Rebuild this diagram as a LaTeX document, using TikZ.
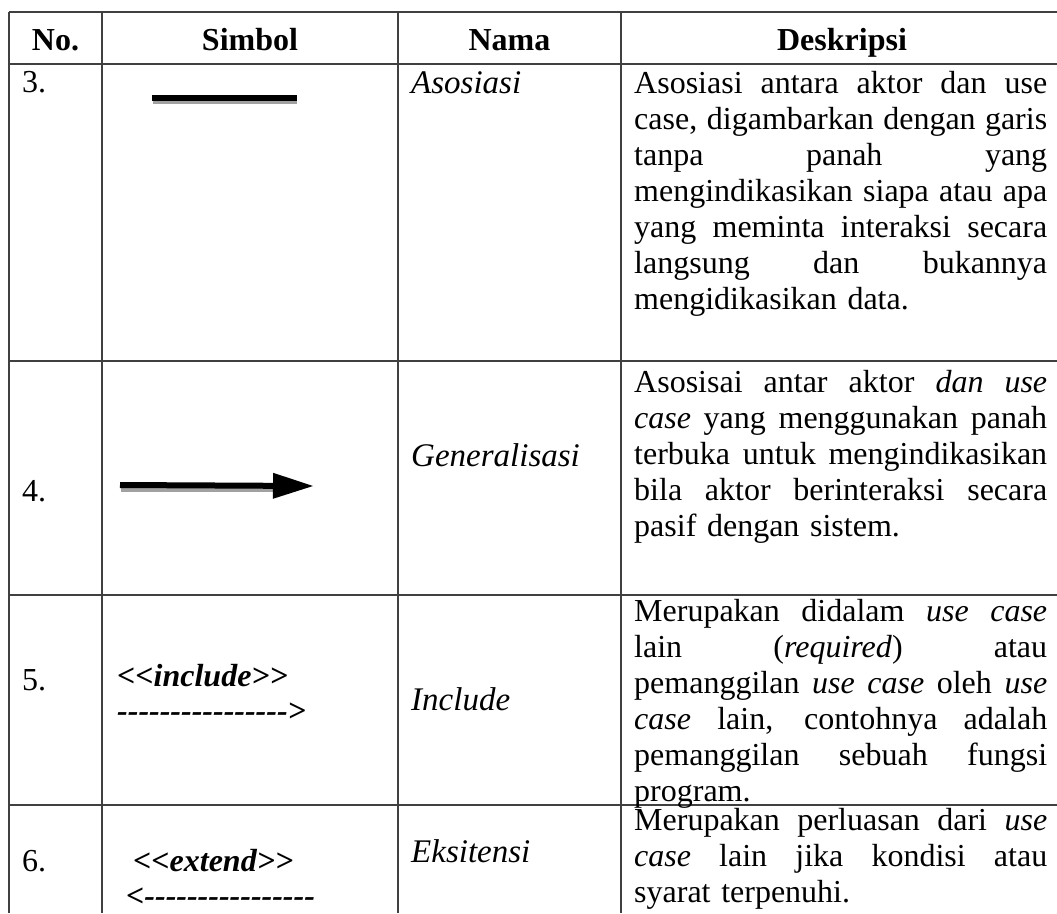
\documentclass[tikz,border=0pt]{standalone}
\usepackage{fontspec}
\setmainfont{Liberation Serif}
\newfontfamily\symfont{Liberation Serif}
\usetikzlibrary{arrows.meta}
\newlength{\dw}\setlength{\dw}{413pt}
\newcommand{\dl}[1]{\leavevmode{\spaceskip=.25em plus 1fil minus .05em\relax\hbox to\dw{#1}}}

\begin{document}
\begin{tikzpicture}[x=1pt,y=-1pt,
  tbl/.style={line width=1.4pt, black!75},
  txt/.style={font=\fontsize{32}{36}\selectfont, inner sep=0pt, anchor=base west},
  head/.style={font=\fontsize{32}{36}\selectfont\bfseries, inner sep=0pt, anchor=base},
  nama/.style={txt, font=\fontsize{33}{36}\selectfont\itshape},
  desc/.style={txt, text width=\dw, align=left},
  sym/.style={txt, font=\fontsize{32}{36}\selectfont\symfont\bfseries\itshape},
  shade/.style={line width=6pt, black!37}]
\fill[white] (0,0) rectangle (1057,913);
\useasboundingbox (0,0) rectangle (1057,913);
\foreach \y in {12,64,361,595,805} \draw[tbl] (9,\y) -- (1057,\y);
\foreach \x in {9,102,398,621} \draw[tbl] (\x,12) -- (\x,913);
\node[head] (hno) at (55.5,50) {No.};
\node[head] (hsim) at (250,50) {Simbol};
\node[head] (hnam) at (509.5,50) {Nama};
\node[head] (hdes) at (842,50) {Deskripsi};
\node[txt] (n3) at (22,92) {3.};
\node[txt] (n4) at (22,501) {4.};
\node[txt] (n5) at (22,690) {5.};
\node[txt] (n6) at (22,871) {6.};
\node[nama] (asos) at (411,93) {Asosiasi};
\node[nama] (gen) at (411,466) {Generalisasi};
\node[nama] (inc) at (411,710) {Include};
\node[nama] (eks) at (411,862) {Eksitensi};
\coordinate (as1) at (152,98);
\coordinate (as2) at (297,98);
\coordinate (as1s) at (153,101);
\coordinate (as2s) at (297,101);
\draw[shade] (as1s) -- (as2s);
\draw[line width=6pt] (as1) -- (as2);
\coordinate (ge1) at (120,485);
\coordinate (ge2) at (313,486);
\coordinate (ge1s) at (121,489);
\coordinate (ge2s) at (276,489);
\draw[shade] (ge1s) -- (ge2s);
\draw[line width=6pt, -{Triangle[length=40pt,width=26pt,line width=0pt]}] (ge1) -- (ge2);
\node[sym] (inclab) at (117,686) {<<include>>};
\node[sym] (incln) at (117,721) {---------------->};
\node[sym] (extlab) at (133,871) {<<extend>>};
\node[sym] (extln) at (126,906) {<----------------};
\node[desc] (d3) at (634,93) {\dl{Asosiasi antara aktor dan use}\\
\dl{case, digambarkan dengan garis}\\
\dl{tanpa panah yang}\\
\dl{mengindikasikan siapa atau apa}\\
\dl{yang meminta interaksi secara}\\
\dl{langsung dan bukannya}\\
mengidikasikan data.};
\node[desc] (d4) at (634,392) {\dl{Asosisai antar aktor \textit{dan use}}\\
\dl{\textit{case} yang menggunakan panah}\\
\dl{terbuka untuk mengindikasikan}\\
\dl{bila aktor berinteraksi secara}\\
pasif dengan sistem.};
\node[desc] (d5) at (634,621) {\dl{Merupakan didalam \textit{use case}}\\
\dl{lain (\textit{required}) atau}\\
\dl{pemanggilan \textit{use case} oleh \textit{use}}\\
\dl{\textit{case} lain, contohnya adalah}\\
\dl{pemanggilan sebuah fungsi}\\
program.};
\node[desc] (d6) at (634,830) {\dl{Merupakan perluasan dari \textit{use}}\\
\dl{\textit{case} lain jika kondisi atau}\\
syarat terpenuhi.};
\end{tikzpicture}
\end{document}
